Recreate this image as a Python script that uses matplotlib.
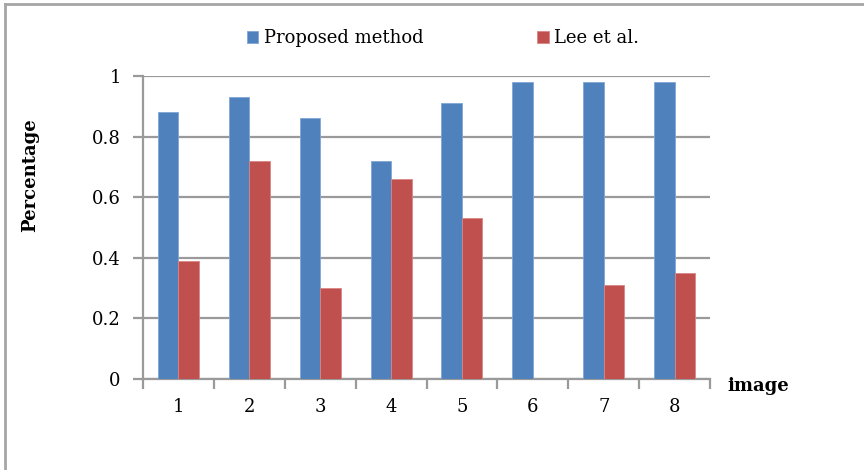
import matplotlib.pyplot as plt
import numpy as np
from matplotlib.lines import Line2D

# image index and detection percentage for each method
images = ['1', '2', '3', '4', '5', '6', '7', '8']
proposed = [0.88, 0.93, 0.86, 0.72, 0.91, 0.98, 0.98, 0.98]
lee = [0.39, 0.72, 0.30, 0.66, 0.53, 0.0, 0.31, 0.35]
yticks = [0, 0.2, 0.4, 0.6, 0.8, 1]
ytick_labels = ['0', '0.2', '0.4', '0.6', '0.8', '1']

plt.rcParams['font.family'] = ['DejaVu Serif']
grid_col = '#9a9a9a'

fig = plt.figure(figsize=(8.64, 4.70), dpi=100)
ax = fig.add_axes([143/864, 91/470, 567/864, 303/470])

x = np.arange(len(images))
w = 0.29
b1 = ax.bar(x - w/2, proposed, w, color='#4F81BD', edgecolor='#7fa6d6', linewidth=0.6,
            label='Proposed method', zorder=3)
b2 = ax.bar(x + w/2, lee, w, color='#C0504D', edgecolor='#d88584', linewidth=0.6,
            label='Lee et al.', zorder=3)

ax.set_xlim(-0.5, len(images) - 0.5)
ax.set_ylim(0, 1)
ax.set_yticks(yticks)
ax.set_yticklabels(ytick_labels, fontsize=13)
ax.set_xticks(x)
ax.set_xticklabels(images, fontsize=13)
ax.set_xticks(np.arange(-0.5, len(images)), minor=True)

ax.grid(axis='y', color=grid_col, linewidth=1.6, zorder=0)
ax.tick_params(axis='x', which='major', length=0, pad=14)
ax.tick_params(axis='x', which='minor', length=7, width=1.6, color=grid_col)
ax.tick_params(axis='y', length=7, width=1.6, color=grid_col, pad=9)
for s in ['top', 'right']:
    ax.spines[s].set_visible(False)
for s in ['left', 'bottom']:
    ax.spines[s].set_color(grid_col)
    ax.spines[s].set_linewidth(1.6)

fig.text(30/864, 1 - 175/470, 'Percentage', rotation=90, fontsize=13,
         fontweight='bold', ha='center', va='center')
fig.text(727/864, 1 - 386/470, 'image', fontsize=13, fontweight='bold',
         ha='left', va='center')

fig.legend(handles=[b1, b2], loc='center', bbox_to_anchor=(443/864, 1 - 38/470),
           ncol=2, frameon=False, fontsize=13, handlelength=0.65, handleheight=0.65,
           handletextpad=0.3, columnspacing=6.3)

# outer chart frame (top and left edges)
fig.add_artist(Line2D([5/864, 1], [1 - 4/470, 1 - 4/470], transform=fig.transFigure,
                      color='#a6a6a6', linewidth=2))
fig.add_artist(Line2D([5/864, 5/864], [0, 1 - 4/470], transform=fig.transFigure,
                      color='#a6a6a6', linewidth=2))

plt.savefig('out.png', dpi=100)
plt.close()
